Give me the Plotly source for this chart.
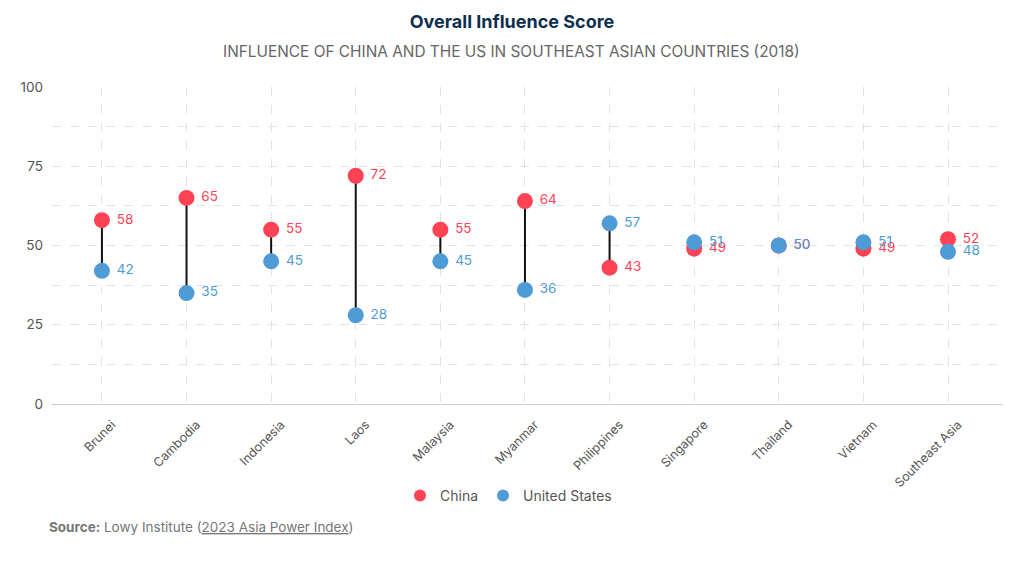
import plotly.graph_objects as go

countries = ["Brunei", "Cambodia", "Indonesia", "Laos", "Malaysia", "Myanmar",
             "Philippines", "Singapore", "Thailand", "Vietnam", "Southeast Asia"]
china = [58, 65, 55, 72, 55, 64, 43, 49, 50, 49, 52]
us = [42, 35, 45, 28, 45, 36, 57, 51, 50, 51, 48]

RED = "#FF4355"
BLUE = "#4F9BD5"
FONT = "Inter, Open Sans, sans-serif"
PAD = "\u00a0"

lx, ly = [], []
for c, a, b in zip(countries, china, us):
    lx += [c, c, None]
    ly += [a, b, None]

fig = go.Figure()
fig.add_trace(go.Scatter(x=lx, y=ly, mode="lines", line=dict(color="#111111", width=2),
                         showlegend=False, hoverinfo="skip"))
fig.add_trace(go.Scatter(x=countries, y=china, mode="markers+text", name="China",
                         marker=dict(color=RED, size=16),
                         text=[PAD + str(v) for v in china], textposition="middle right",
                         textfont=dict(color=RED, size=13.5, family=FONT)))
fig.add_trace(go.Scatter(x=countries, y=us, mode="markers+text", name="United States",
                         marker=dict(color=BLUE, size=16),
                         text=[PAD + str(v) for v in us], textposition="middle right",
                         textfont=dict(color=BLUE, size=13.5, family=FONT)))

fig.update_layout(
    width=1024, height=566,
    margin=dict(l=52, r=21, t=87, b=162),
    plot_bgcolor="white", paper_bgcolor="white",
    font=dict(family=FONT, color="#555555"),
    title=dict(text="<b>Overall Influence Score</b>", x=0.5, xanchor="center",
               y=1 - 22 / 566, yanchor="middle", yref="container",
               font=dict(size=18, color="#0D2F4F", family=FONT)),
    legend=dict(orientation="h", x=0.48, xanchor="center", y=-0.29, yanchor="middle",
                font=dict(size=14, color="#555555", family=FONT), itemsizing="constant"),
    showlegend=True,
)
fig.add_annotation(text="INFLUENCE OF CHINA AND THE US IN SOUTHEAST ASIAN COUNTRIES (2018)",
                   xref="paper", yref="paper", x=0.4837, y=1 + 36 / 317, xanchor="center",
                   yanchor="middle", showarrow=False,
                   font=dict(size=15.4, color="#666666", family=FONT))
fig.add_annotation(text="<b>Source:</b> Lowy Institute (<u>2023 Asia Power Index</u>)",
                   xref="paper", yref="paper", x=-0.005, y=-0.388, xanchor="left",
                   yanchor="middle", showarrow=False,
                   font=dict(size=13.5, color="#777777", family=FONT))

fig.update_xaxes(range=[-0.59, 10.65], tickangle=-45, showgrid=True,
                 gridcolor="#E3E3E3", griddash="dash", gridwidth=1,
                 tickfont=dict(size=12.5, color="#555555"), showline=False, ticks="",
                 ticklabelstandoff=10, ticklabelshift=10)
fig.update_yaxes(range=[0, 100], tickvals=[0, 25, 50, 75, 100], showgrid=True,
                 gridcolor="#E3E3E3", griddash="dash", gridwidth=1,
                 minor=dict(dtick=12.5, showgrid=True, gridcolor="#E3E3E3", griddash="dash"),
                 zeroline=True, zerolinecolor="#CCCCCC", zerolinewidth=1,
                 tickfont=dict(size=13.5, color="#555555"), ticklabelstandoff=8)

fig.write_html("out.html", config={"displayModeBar": False},
               post_script="document.body.style.margin='0';")
